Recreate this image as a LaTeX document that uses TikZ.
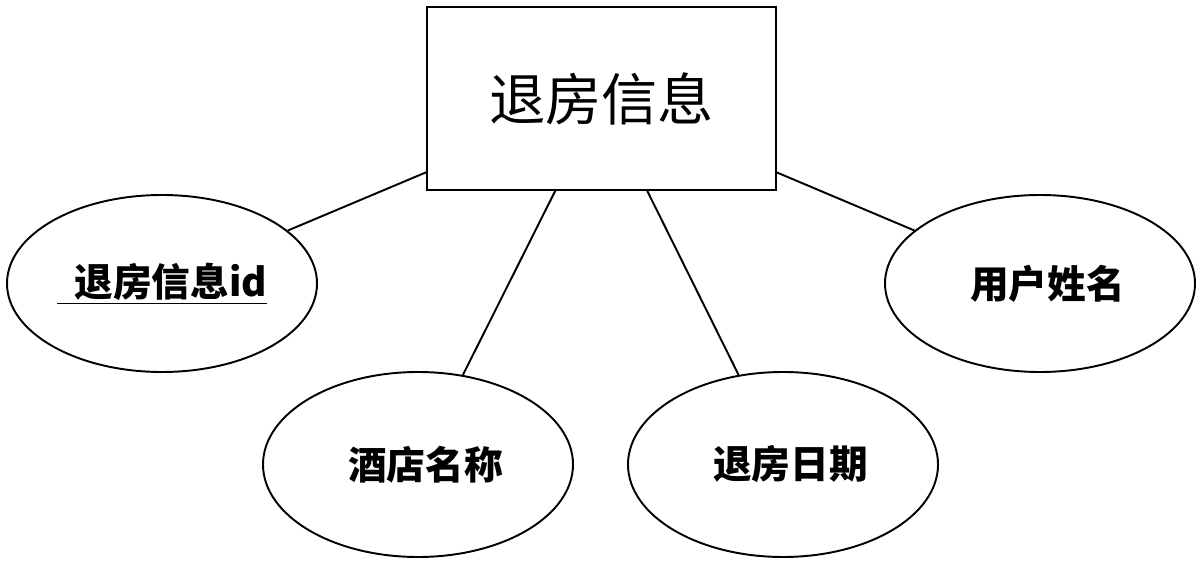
\documentclass[tikz,border=0pt]{standalone}
\usepackage{fontspec}
\setmainfont{Noto Sans CJK SC}
\usetikzlibrary{shapes.geometric}
\tikzset{
  entity/.style={draw,rectangle,line width=1.1pt,inner sep=0pt,minimum width=6.98cm,minimum height=3.66cm,font=\fontsize{32}{38}\selectfont},
  attr/.style={draw,ellipse,line width=1.1pt,inner sep=0pt,minimum width=6.2cm,minimum height=3.6cm,font=\bfseries\fontsize{22}{26}\selectfont},
  link/.style={line width=1.1pt}
}
\begin{document}
\begin{tikzpicture}
\useasboundingbox (0,0) rectangle (24,11.26);
\node[entity,name=info] at (12.03,9.29) {退房信息};
\node[attr,name=a1,minimum height=3.54cm] at (3.24,5.59) {\underline{\ \ 退房信息id}\hspace{0.5cm}};
\node[attr,name=a2,minimum height=3.7cm] at (8.36,1.97) {\hspace{0.3cm}酒店名称};
\node[attr,name=a3,minimum height=3.7cm] at (15.66,1.97) {\hspace{0.3cm}退房日期};
\node[attr,name=a4,minimum height=3.54cm] at (20.8,5.59) {\hspace{0.3cm}用户姓名};
\draw[link] (info) -- (a1);
\draw[link] (info) -- (a2);
\draw[link] (info) -- (a3);
\draw[link] (info) -- (a4);
\end{tikzpicture}
\end{document}
